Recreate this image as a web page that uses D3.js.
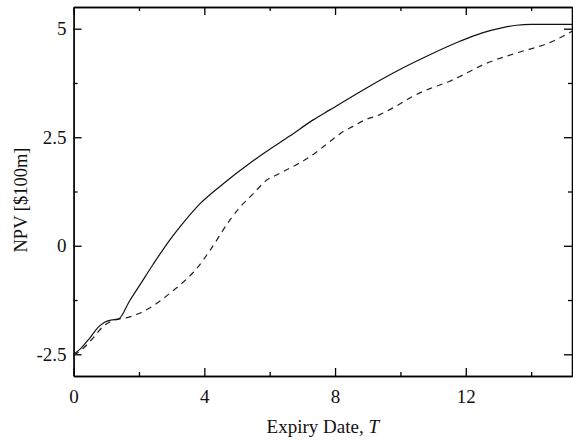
<!DOCTYPE html>
<html lang="en">
<head>
    <meta charset="UTF-8">
    <script src="https://d3js.org/d3.v7.min.js"></script>
    <title>NPV vs Expiry Date</title>
    <style>
        body { margin: 0; background: #fff; }
        text { font-family: "Liberation Serif", "Times New Roman", serif; }
    </style>
</head>
<body>
<div id="draw_here"></div>

<script type="text/javascript">

    // expiry date T (years) and NPV ($100m)
    var solidT   = [0, 0.2, 0.5, 0.75, 0.95, 1.15, 1.37, 1.72, 2.03, 2.44, 2.93, 3.26, 3.87, 4.58, 5.39, 5.9, 6.6, 7.33, 7.84, 8.86, 9.88, 10.9, 11.82, 12.53, 13.1, 13.55, 14.0, 15.25];
    var solidNPV = [-2.5, -2.38, -2.12, -1.88, -1.76, -1.71, -1.69, -1.26, -0.90, -0.42, 0.12, 0.44, 0.97, 1.43, 1.90, 2.17, 2.52, 2.90, 3.13, 3.59, 4.02, 4.40, 4.71, 4.91, 5.02, 5.08, 5.10, 5.10];

    var dashT   = [0, 0.3, 0.6, 0.9, 1.15, 1.37, 1.67, 2.0, 2.44, 3.05, 3.35, 3.76, 4.17, 4.78, 5.09, 5.5, 5.9, 6.21, 6.7, 7.23, 7.64, 8.25, 8.55, 8.86, 9.37, 9.88, 10.4, 10.9, 11.51, 11.82, 12.53, 13.55, 14.57, 15.25];
    var dashNPV = [-2.52, -2.36, -2.12, -1.86, -1.74, -1.69, -1.65, -1.56, -1.38, -1.03, -0.84, -0.53, -0.11, 0.59, 0.89, 1.2, 1.51, 1.63, 1.82, 2.05, 2.28, 2.63, 2.75, 2.88, 3.02, 3.22, 3.45, 3.62, 3.79, 3.90, 4.17, 4.44, 4.68, 4.94];

    var xTicks = [0, 4, 8, 12];
    var xTickLabels = ["0", "4", "8", "12"];
    var xMinor = [2, 6, 10, 14];
    var yTicks = [-2.5, 0, 2.5, 5];
    var yTickLabels = ["-2.5", "0", "2.5", "5"];
    var yMinor = [-1.25, 1.25, 3.75];

    var width = 573;
    var height = 443;
    var margin = {top: 7, right: 1, bottom: 67, left: 73.6};

    var x = d3.scaleLinear()
        .domain([0, 15.25])
        .range([margin.left, width - margin.right]);

    var y = d3.scaleLinear()
        .domain([-3, 5.5])
        .range([height - margin.bottom, margin.top]);

    var svg = d3.select("#draw_here")
        .append("svg")
        .attr("width", width)
        .attr("height", height);

    // inward ticks on all four sides
    function ticks(axis, values, size, labels) {
        return axis.tickValues(values)
            .tickSizeInner(-size)
            .tickSizeOuter(0)
            .tickFormat((d, i) => labels ? labels[i] : "");
    }

    var gBottom = svg.append("g")
        .attr("transform", `translate(0,${y(-3)})`);
    gBottom.append("g").call(ticks(d3.axisBottom(x), xMinor, 4));
    gBottom.append("g").call(ticks(d3.axisBottom(x), xTicks, 8, xTickLabels).tickPadding(14));

    var gTop = svg.append("g")
        .attr("transform", `translate(0,${y(5.5)})`);
    gTop.append("g").call(ticks(d3.axisTop(x), xMinor, 4));
    gTop.append("g").call(ticks(d3.axisTop(x), xTicks, 8));

    var gLeft = svg.append("g")
        .attr("transform", `translate(${x(0)},0)`);
    gLeft.append("g").call(ticks(d3.axisLeft(y), yMinor, 4));
    gLeft.append("g").call(ticks(d3.axisLeft(y), yTicks, 8, yTickLabels).tickPadding(7));

    var gRight = svg.append("g")
        .attr("transform", `translate(${x(15.25)},0)`);
    gRight.append("g").call(ticks(d3.axisRight(y), yMinor, 4));
    gRight.append("g").call(ticks(d3.axisRight(y), yTicks, 8));

    svg.selectAll(".domain, .tick line")
        .attr("stroke", "#000")
        .attr("stroke-width", 1.3);

    svg.selectAll(".tick text")
        .attr("fill", "#111")
        .style("font-size", "19px")
        .style("font-family", "Liberation Serif, serif");

    var line = d3.line()
        .x(d => x(d[0]))
        .y(d => y(d[1]))
        .curve(d3.curveMonotoneX);

    svg.append("path")
        .datum(dashT.map((t, i) => [t, dashNPV[i]]))
        .attr("fill", "none")
        .attr("stroke", "#222")
        .attr("stroke-width", 1.2)
        .attr("stroke-dasharray", "6,5")
        .attr("d", line);

    svg.append("path")
        .datum(solidT.map((t, i) => [t, solidNPV[i]]))
        .attr("fill", "none")
        .attr("stroke", "#111")
        .attr("stroke-width", 1.2)
        .attr("d", line);

    // axis titles
    var xTitle = svg.append("text")
        .attr("x", (x(0) + x(15.25)) / 2)
        .attr("y", 433)
        .attr("text-anchor", "middle")
        .style("font-size", "19px")
        .attr("fill", "#111");
    xTitle.append("tspan").text("Expiry Date, ");
    xTitle.append("tspan").attr("font-style", "italic").text("T");

    svg.append("text")
        .attr("transform", "translate(27,200) rotate(-90)")
        .attr("text-anchor", "middle")
        .style("font-size", "18.5px")
        .attr("fill", "#111")
        .text("NPV [$100m]");

</script>
</body>
</html>
